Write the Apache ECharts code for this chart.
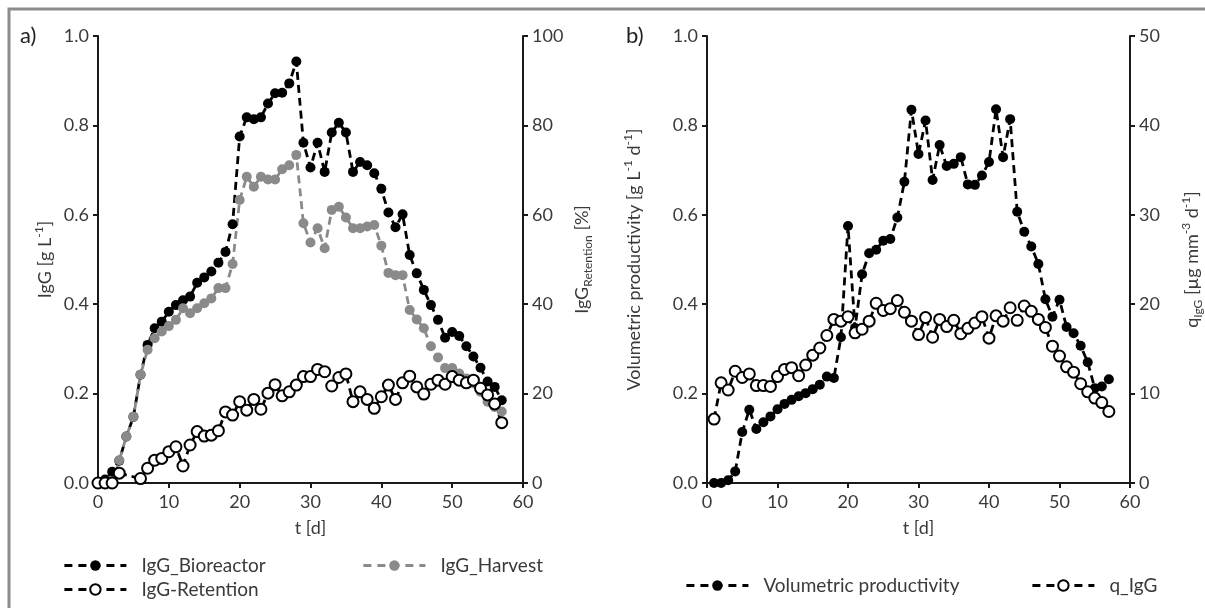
<!DOCTYPE html>
<html>
<head>
<meta charset="utf-8">
<script src="https://cdn.jsdelivr.net/npm/echarts@6/dist/echarts.min.js"></script>
<style>
html,body{margin:0;padding:0;background:#fff;}
#chart{width:1205px;height:608px;}
</style>
</head>
<body>
<div id="chart"></div>
<script>
// ---- data: panel a ----
var daysA = [0,1,2,3,4,5,6,7,8,9,10,11,12,13,14,15,16,17,18,19,20,21,22,23,24,25,26,27,28,29,30,31,32,33,34,35,36,37,38,39,40,41,42,43,44,45,46,47,48,49,50,51,52,53,54,55,56,57];
var iggBioreactor = [0.00,0.008,0.025,0.05,0.104,0.148,0.242,0.309,0.346,0.361,0.383,0.398,0.409,0.417,0.448,0.460,0.473,0.493,0.517,0.579,0.775,0.818,0.814,0.818,0.849,0.872,0.873,0.894,0.943,0.761,0.706,0.761,0.696,0.784,0.806,0.784,0.696,0.718,0.711,0.693,0.658,0.605,0.572,0.601,0.510,0.469,0.432,0.398,0.365,0.325,0.338,0.329,0.306,0.283,0.258,0.227,0.215,0.185];
var iggHarvest = [0,0,0,0.051,0.104,0.148,0.242,0.298,0.324,0.339,0.351,0.365,0.391,0.380,0.391,0.402,0.413,0.436,0.436,0.490,0.633,0.685,0.663,0.685,0.679,0.679,0.702,0.711,0.734,0.581,0.538,0.570,0.525,0.611,0.618,0.594,0.570,0.570,0.574,0.577,0.531,0.470,0.465,0.465,0.387,0.366,0.346,0.306,0.281,0.257,0.257,0.245,0.234,0.223,0.204,0.182,0.170,0.160];
var iggRetention = [0,0,0,2.2,null,null,1.0,3.3,5.1,5.5,7.0,8.1,3.8,8.5,11.5,10.5,10.7,11.7,15.9,15.2,18.2,16.3,18.7,16.5,20.1,22.0,19.5,20.4,21.9,23.8,23.8,25.4,24.9,21.7,23.6,24.4,18.2,20.4,18.7,16.7,19.3,21.9,18.7,22.4,23.9,21.5,19.9,22.1,23.0,22.1,23.8,23.0,22.4,23.0,21.2,19.7,17.7,13.5];
// ---- data: panel b ----
var daysB = [1,2,3,4,5,6,7,8,9,10,11,12,13,14,15,16,17,18,19,20,21,22,23,24,25,26,27,28,29,30,31,32,33,34,35,36,37,38,39,40,41,42,43,44,45,46,47,48,49,50,51,52,53,54,55,56,57];
var volProductivity = [0,0,0.006,0.026,0.114,0.164,0.121,0.136,0.149,0.165,0.177,0.186,0.194,0.201,0.210,0.220,0.238,0.235,0.326,0.575,0.347,0.467,0.514,0.522,0.542,0.546,0.594,0.674,0.835,0.736,0.811,0.678,0.756,0.709,0.714,0.729,0.668,0.667,0.688,0.718,0.836,0.729,0.814,0.607,0.562,0.529,0.490,0.411,0.372,0.410,0.349,0.335,0.307,0.270,0.212,0.216,0.232];
var qIgG = [7.15,11.2,10.4,12.5,11.8,12.2,10.9,10.9,10.8,11.9,12.7,12.9,12.0,13.2,14.3,15.1,16.5,18.3,18.1,18.6,16.8,17.2,18.1,20.1,19.3,19.5,20.4,19.1,18.1,16.6,18.5,16.3,18.3,17.5,18.2,16.7,17.3,17.9,18.6,16.2,18.7,18.1,19.6,18.2,19.8,19.2,18.3,17.4,15.3,14.2,13.0,12.4,11.1,10.2,9.5,9.0,8.0];
// tick settings
var xTicks = {min:0, max:60, interval:10};
var yLeftTicks = {min:0, max:1, interval:0.2};
var yRetTicks = {min:0, max:100, interval:20};
var yQTicks = {min:0, max:50, interval:10};

function pairs(xs, ys){ return xs.map(function(x,i){ return [x, ys[i]]; }); }

var FONT = 'Lato';
var TXT = '#3a3a3a';
var AX = '#1a1a1a';
var richSS = {
  sup:{fontSize:12, lineHeight:12, verticalAlign:'top', color:TXT, fontFamily:FONT},
  sub:{fontSize:12, lineHeight:12, verticalAlign:'bottom', color:TXT, fontFamily:FONT}
};
function nameStyle(){ return {fontSize:18, lineHeight:24, color:TXT, fontFamily:FONT, rich:richSS}; }

function xAxisCfg(gi){
  return {type:'value', gridIndex:gi, min:xTicks.min, max:xTicks.max, interval:xTicks.interval,
    name:'t [d]', nameLocation:'middle', nameGap:33, nameTextStyle:nameStyle(),
    axisLine:{onZero:false, lineStyle:{color:AX, width:2}},
    axisTick:{show:true, inside:false, length:5, lineStyle:{color:AX, width:2}},
    axisLabel:{color:TXT, fontSize:18, fontFamily:FONT, margin:10},
    splitLine:{show:false}};
}
function yAxisCfg(gi, pos, t, name, gap, fmt){
  return {type:'value', gridIndex:gi, position:pos, min:t.min, max:t.max, interval:t.interval,
    name:name, nameLocation:'middle', nameGap:gap, nameRotate:90, nameTextStyle:nameStyle(),
    axisLine:{show:true, onZero:false, lineStyle:{color:AX, width:2}},
    axisTick:{show:true, inside:false, length:5, lineStyle:{color:AX, width:2}},
    axisLabel:{color:TXT, fontSize:18, fontFamily:FONT, margin:9, formatter:fmt},
    splitLine:{show:false}};
}

var dash = [8,5];
function lineSeries(name, xi, yi, data, color, filled){
  return {name:name, type:'line', xAxisIndex:xi, yAxisIndex:yi, data:data, connectNulls:true,
    symbol:'circle', symbolSize: filled ? 10 : 11,
    lineStyle:{color:color, width:2.8, type:dash},
    itemStyle:{color: filled ? color : '#ffffff', borderColor:color, borderWidth: filled ? 0 : 2},
    emphasis:{disabled:true}, animation:false, z: 2};
}

var legendText = {color:TXT, fontSize:19, fontFamily:FONT, padding:[0,0,0,10]};
function legendCfg(names, left, top){
  return {data:names, left:left, top:top, orient:'horizontal', itemWidth:62, itemHeight:13,
    textStyle:legendText, selectedMode:false, itemGap:20,
    lineStyle:{width:2.8, type:[8,6]}};
}

var option = {
  animation:false,
  backgroundColor:'#ffffff',
  grid:[
    {left:98, top:36, width:425, height:447},
    {left:707, top:36, width:423, height:447}
  ],
  xAxis:[xAxisCfg(0), xAxisCfg(1)],
  yAxis:[
    yAxisCfg(0,'left',yLeftTicks,'IgG [g L{sup|-1}]',41,function(v){return v.toFixed(1);}),
    yAxisCfg(0,'right',yRetTicks,'IgG{sub|Retention} [%]',47,function(v){return String(v);}),
    yAxisCfg(1,'left',yLeftTicks,'Volumetric productivity [g L{sup|-1} d{sup|-1}]',61,function(v){return v.toFixed(1);}),
    yAxisCfg(1,'right',yQTicks,'q{sub|IgG} [µg mm{sup|-3} d{sup|-1}]',50,function(v){return String(v);})
  ],
  legend:[
    legendCfg(['IgG_Bioreactor'], 58, 551),
    legendCfg(['IgG_Harvest'], 357, 551),
    legendCfg(['IgG-Retention'], 58, 575),
    legendCfg(['Volumetric productivity'], 680, 571),
    legendCfg(['q_IgG'], 1026, 571)
  ],
  graphic:[
    {type:'rect', shape:{x:9, y:9, width:1220, height:630}, style:{fill:'none', stroke:'#8c8c8c', lineWidth:3}, silent:true},
    {type:'text', left:20, top:25, style:{text:'a)', fontSize:22, fontFamily:FONT, fill:'#222'}},
    {type:'text', left:626, top:25, style:{text:'b)', fontSize:22, fontFamily:FONT, fill:'#222'}}
  ],
  series:[
    lineSeries('IgG_Bioreactor',0,0,pairs(daysA,iggBioreactor),'#000000',true),
    lineSeries('IgG_Harvest',0,0,pairs(daysA,iggHarvest),'#8a8a8a',true),
    lineSeries('IgG-Retention',0,1,pairs(daysA,iggRetention),'#000000',false),
    lineSeries('Volumetric productivity',1,2,pairs(daysB,volProductivity),'#000000',true),
    lineSeries('q_IgG',1,3,pairs(daysB,qIgG),'#000000',false)
  ]
};
var chart = echarts.init(document.getElementById('chart'), null, {renderer:'canvas'});
chart.setOption(option);
</script>
</body>
</html>
